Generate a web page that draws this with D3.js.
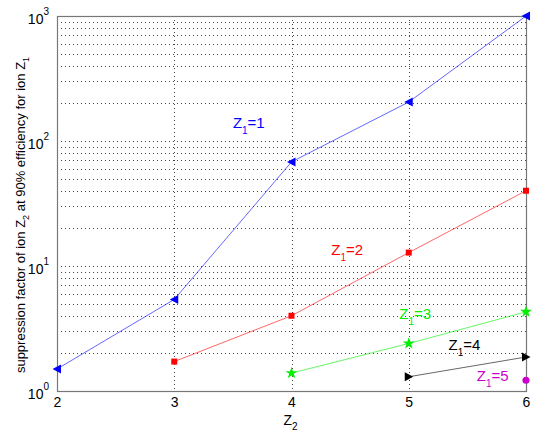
<!DOCTYPE html>
<html>
<head>
<meta charset="utf-8">
<script src="https://cdn.jsdelivr.net/npm/d3@7"></script>
<style>
  body { margin: 0; background: #fff; }
  text { font-family: "Liberation Sans", Arial, sans-serif; }
</style>
</head>
<body>
<svg id="chart" width="545" height="440"></svg>
<script>
// Z2 values on the x axis
var z2Ticks = [2, 3, 4, 5, 6];
var decades = [1, 10, 100, 1000];

// suppression factor per Z1 series
var z1_1 = [[2, 1.5], [3, 5.4], [4, 68], [5, 205], [6, 1000]];
var z1_2 = [[3, 1.72], [4, 4.0], [5, 12.8], [6, 40]];
var z1_3 = [[4, 1.39], [5, 2.4], [6, 4.3]];
var z1_4 = [[5, 1.3], [6, 1.87]];
var z1_5 = [[6, 1.22]];

var seriesNames = ["1", "2", "3", "4", "5"];
var seriesColors = ["#0000ff", "#ff0000", "#00ee00", "#000000", "#cc00cc"];
var seriesMarkers = ["triLeft", "square", "star", "triRight", "circle"];
var seriesData = [z1_1, z1_2, z1_3, z1_4, z1_5];
// label anchor in data units
var labelPos = [[3.5, 127], [4.34, 12.2], [4.92, 3.75], [5.34, 2.13], [5.58, 1.2]];

var width = 545,
    height = 440;
var margin = {top: 16, right: 19, bottom: 49, left: 57};

var svg = d3.select("#chart");

var x = d3.scaleLinear().domain([2, 6]).range([margin.left, width - margin.right]);
var y = d3.scaleLog().domain([1, 1000]).range([height - margin.bottom, margin.top]);

// grid lines
var minor = [];
decades.slice(0, 3).forEach(function (d) {
  for (var k = 1; k < 10; k++) minor.push(d * k);
});
minor.push(1000);

var grid = svg.append("g").attr("class", "grid");
grid.selectAll("line.h")
  .data(minor.filter(function (v) { return v > 1 && v < 1000; }))
  .enter().append("line")
  .attr("x1", margin.left).attr("x2", width - margin.right)
  .attr("y1", function (d) { return Math.round(y(d)) + 0.5; })
  .attr("y2", function (d) { return Math.round(y(d)) + 0.5; })
  .attr("stroke", "#444")
  .attr("stroke-width", 1)
  .attr("stroke-dasharray", "1,3");

grid.selectAll("line.v")
  .data(z2Ticks.slice(1, -1))
  .enter().append("line")
  .attr("x1", function (d) { return Math.round(x(d)) + 0.5; })
  .attr("x2", function (d) { return Math.round(x(d)) + 0.5; })
  .attr("y1", margin.top).attr("y2", height - margin.bottom)
  .attr("stroke", "#444")
  .attr("stroke-width", 1)
  .attr("stroke-dasharray", "1,3");

// box
svg.append("rect")
  .attr("x", margin.left + 0.5).attr("y", margin.top + 0.5)
  .attr("width", width - margin.left - margin.right)
  .attr("height", height - margin.top - margin.bottom)
  .attr("fill", "none")
  .attr("stroke", "#777")
  .attr("stroke-width", 1.2);

// axes (labels only, MATLAB style)
var xAxis = d3.axisBottom(x).tickValues(z2Ticks).tickSize(0).tickPadding(6).tickFormat(d3.format("d"));
var gx = svg.append("g")
  .attr("transform", "translate(0," + (height - margin.bottom) + ")")
  .call(xAxis);
gx.select(".domain").remove();
gx.selectAll("text").attr("font-size", 14).attr("fill", "#000")
  .attr("font-family", "Liberation Sans, Arial, sans-serif");

var yAxis = d3.axisLeft(y).tickValues(decades).tickSize(0).tickPadding(6).tickFormat("");
var gy = svg.append("g")
  .attr("transform", "translate(" + margin.left + ",0)")
  .call(yAxis);
gy.select(".domain").remove();
gy.selectAll(".tick text").each(function (d) {
  var t = d3.select(this)
    .attr("font-size", 14).attr("fill", "#000")
    .attr("font-family", "Liberation Sans, Arial, sans-serif")
    .attr("dy", "0.55em")
    .attr("x", -8);
  t.append("tspan").text("10");
  t.append("tspan").attr("font-size", 10).attr("dy", "-0.9em").text(Math.round(Math.log10(d)));
});

// axis titles
var xl = svg.append("text")
  .attr("x", x(4) - 8).attr("y", 425)
  .attr("font-size", 14);
xl.append("tspan").text("Z");
xl.append("tspan").attr("font-size", 10).attr("dy", 5).text("2");

var yl = svg.append("text")
  .attr("transform", "translate(25," + 215 + ") rotate(-90)")
  .attr("text-anchor", "middle")
  .attr("font-size", 13);
yl.append("tspan").text("suppression factor of ion Z");
yl.append("tspan").attr("font-size", 9).attr("dy", 4).text("2");
yl.append("tspan").attr("dy", -4).text(" at 90% efficiency for ion Z");
yl.append("tspan").attr("font-size", 9).attr("dy", 4).text("1");

// series
var line = d3.line()
  .x(function (d) { return x(d[0]); })
  .y(function (d) { return y(d[1]); });

var markerPath = {
  triLeft: "M-4.5,0L4,-4.5L4,4.5Z",
  triRight: "M4.5,0L-4,-4.5L-4,4.5Z",
  square: "M-3,-3L3,-3L3,3L-3,3Z",
  star: d3.symbol().type(d3.symbolStar).size(45)(),
  circle: d3.symbol().type(d3.symbolCircle).size(40)()
};

seriesData.forEach(function (data, i) {
  var g = svg.append("g");
  g.append("path")
    .datum(data)
    .attr("fill", "none")
    .attr("stroke", seriesColors[i])
    .attr("stroke-opacity", 0.6)
    .attr("stroke-width", 1)
    .attr("d", line);
  g.selectAll("path.m")
    .data(data)
    .enter().append("path")
    .attr("class", "m")
    .attr("transform", function (d) { return "translate(" + x(d[0]) + "," + y(d[1]) + ")"; })
    .attr("d", markerPath[seriesMarkers[i]])
    .attr("fill", seriesColors[i]);

  var lab = g.append("text")
    .attr("x", x(labelPos[i][0])).attr("y", y(labelPos[i][1]))
    .attr("font-size", 15)
    .attr("fill", seriesColors[i]);
  lab.append("tspan").text("Z");
  lab.append("tspan").attr("font-size", 10).attr("dy", 6).text("1");
  lab.append("tspan").attr("dy", -6).text("=" + seriesNames[i]);
});
</script>
</body>
</html>
